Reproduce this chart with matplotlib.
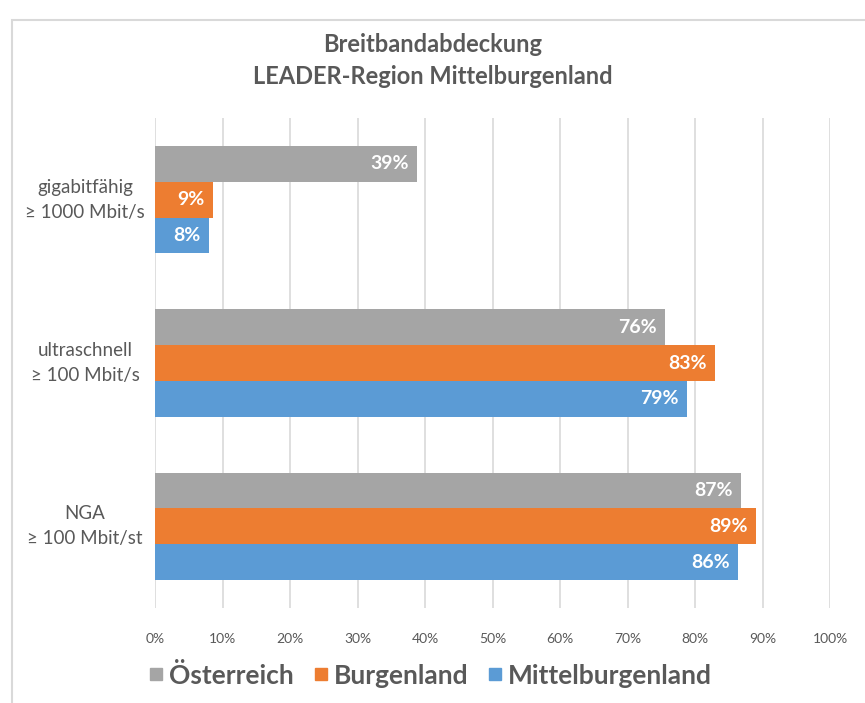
import matplotlib.pyplot as plt
from matplotlib.lines import Line2D
from matplotlib.patches import Rectangle

plt.rcParams['font.family'] = ['Lato', 'DejaVu Sans']

categories = ['gigabitfähig\n≥ 1000 Mbit/s', 'ultraschnell\n≥ 100 Mbit/s', 'NGA\n≥ 100 Mbit/st']
series = ['Österreich', 'Burgenland', 'Mittelburgenland']
oesterreich = [38.8, 75.5, 86.8]
burgenland = [8.6, 83.0, 89.0]
mittelburgenland = [8.0, 78.8, 86.4]
colors = ['#A5A5A5', '#ED7D31', '#5B9BD5']
ticks = list(range(0, 101, 10))

text_col = '#595959'

fig = plt.figure(figsize=(8.65, 7.03), dpi=100)
fig.patches.append(Rectangle((12 / 865, -0.01), 1.0, 0.996 - 10 / 703, transform=fig.transFigure,
                             fill=False, edgecolor='#D9D9D9', linewidth=1.5))

ax = fig.add_axes([155 / 865, 1 - 608 / 703, 675 / 865, 490 / 703])

h = 0.2195
values = [oesterreich, burgenland, mittelburgenland]
for k, (vals, col) in enumerate(zip(values, colors)):
    for i, v in enumerate(vals):
        y = i + (k - 1) * h
        ax.barh(y, v, height=h, color=col, zorder=3)
        ax.text(v - 1.2, y, f'{round(v)}%', ha='right', va='center', color='white',
                fontsize=14, fontweight='bold', zorder=4)

ax.set_xlim(0, 100)
ax.set_ylim(2.5, -0.5)
ax.set_xticks(ticks)
ax.set_xticklabels([f'{t}%' for t in ticks], color=text_col, fontsize=10)
ax.tick_params(axis='x', length=0, pad=18)
ax.set_yticks([])
ax.grid(axis='x', color='#D9D9D9', linewidth=1.2, zorder=0)
for s in ax.spines.values():
    s.set_visible(False)

for i, c in enumerate(categories):
    ax.text(-0.1037, i, c, transform=ax.get_yaxis_transform(), ha='center', va='center',
            color=text_col, fontsize=13.5, linespacing=1.55)

fig.text(0.5, 1 - 45 / 703, 'Breitbandabdeckung', ha='center', va='center',
         color=text_col, fontsize=17, fontweight='bold')
fig.text(0.5, 1 - 76 / 703, 'LEADER-Region Mittelburgenland', ha='center', va='center',
         color=text_col, fontsize=17, fontweight='bold')

handles = [Line2D([], [], marker='s', linestyle='none', markersize=9, color=c) for c in colors]
fig.legend(handles, series, loc='center', bbox_to_anchor=(0.498, 1 - 675 / 703), ncol=3,
           frameon=False, labelcolor=text_col, handlelength=0.5, handletextpad=0.25,
           columnspacing=0.75, prop={'weight': 'bold', 'size': 19})

fig.savefig('out.png', dpi=100)
